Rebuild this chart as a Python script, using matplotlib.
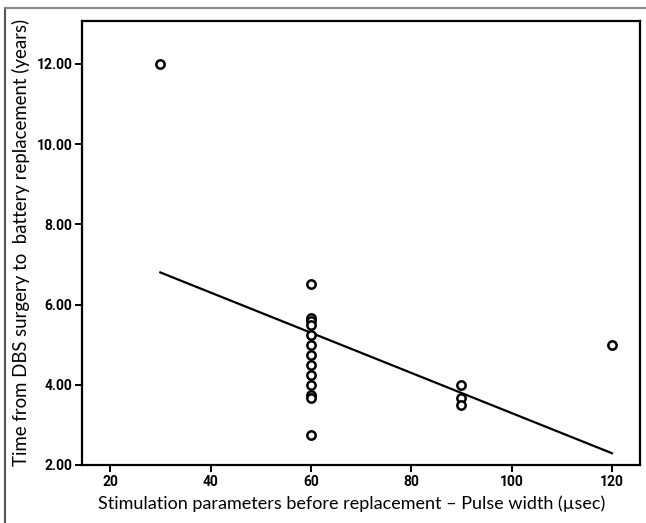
import matplotlib.pyplot as plt
from matplotlib.lines import Line2D
import numpy as np

# pulse width (usec) and time to battery replacement (years)
pulse_width = [30] + [60] * 13 + [90] * 3 + [120]
years = [12.0,
         6.5, 5.67, 5.58, 5.5, 5.25, 5.0, 4.75, 4.5, 4.25, 4.0, 3.75, 3.67, 2.75,
         4.0, 3.67, 3.5,
         5.0]
x_ticks = [20, 40, 60, 80, 100, 120]
y_ticks = [2, 4, 6, 8, 10, 12]

fig = plt.figure(figsize=(6.46, 5.23), dpi=100)
ax = fig.add_axes([0.127, 0.111, 0.863, 0.849])

ax.scatter(pulse_width, years, s=36, facecolors='white', edgecolors='black',
           linewidths=1.8, zorder=3)

# linear fit line
slope, intercept = np.polyfit(pulse_width, years, 1)
fx = np.array([min(pulse_width), max(pulse_width)])
ax.plot(fx, slope * fx + intercept, color='black', lw=1.6, zorder=2)

ax.set_xlim(14.4, 125.5)
ax.set_ylim(2.0, 13.07)
ax.set_xticks(x_ticks)
ax.set_yticks(y_ticks)
ax.set_yticklabels([f"{v:.2f}" for v in y_ticks])
for lab in ax.get_xticklabels() + ax.get_yticklabels():
    lab.set_fontweight('bold')
    lab.set_fontfamily('Roboto')
    lab.set_fontsize(10)
ax.tick_params(direction='out', length=5, width=1.4, pad=2)
for sp in ax.spines.values():
    sp.set_linewidth(1.6)

ax.set_xlabel('Stimulation parameters before replacement \u2013 Pulse width (\u00b5sec)',
              fontsize=13, fontfamily='Lato')
ax.set_ylabel('Time from DBS surgery to  battery replacement (years)',
              fontsize=13.4, fontfamily='Lato')
ax.xaxis.set_label_coords(0.484, -0.068)
ax.yaxis.set_label_coords(-0.094, 0.5)

# outer frame lines (top and left)
fig.add_artist(Line2D([5 / 646, 5 / 646], [0, 1 - 8 / 523], transform=fig.transFigure,
                      color='#555555', lw=1.5))
fig.add_artist(Line2D([5 / 646, 1], [1 - 8 / 523, 1 - 8 / 523], transform=fig.transFigure,
                      color='#888888', lw=1.5))

fig.savefig('out.png', dpi=100)
